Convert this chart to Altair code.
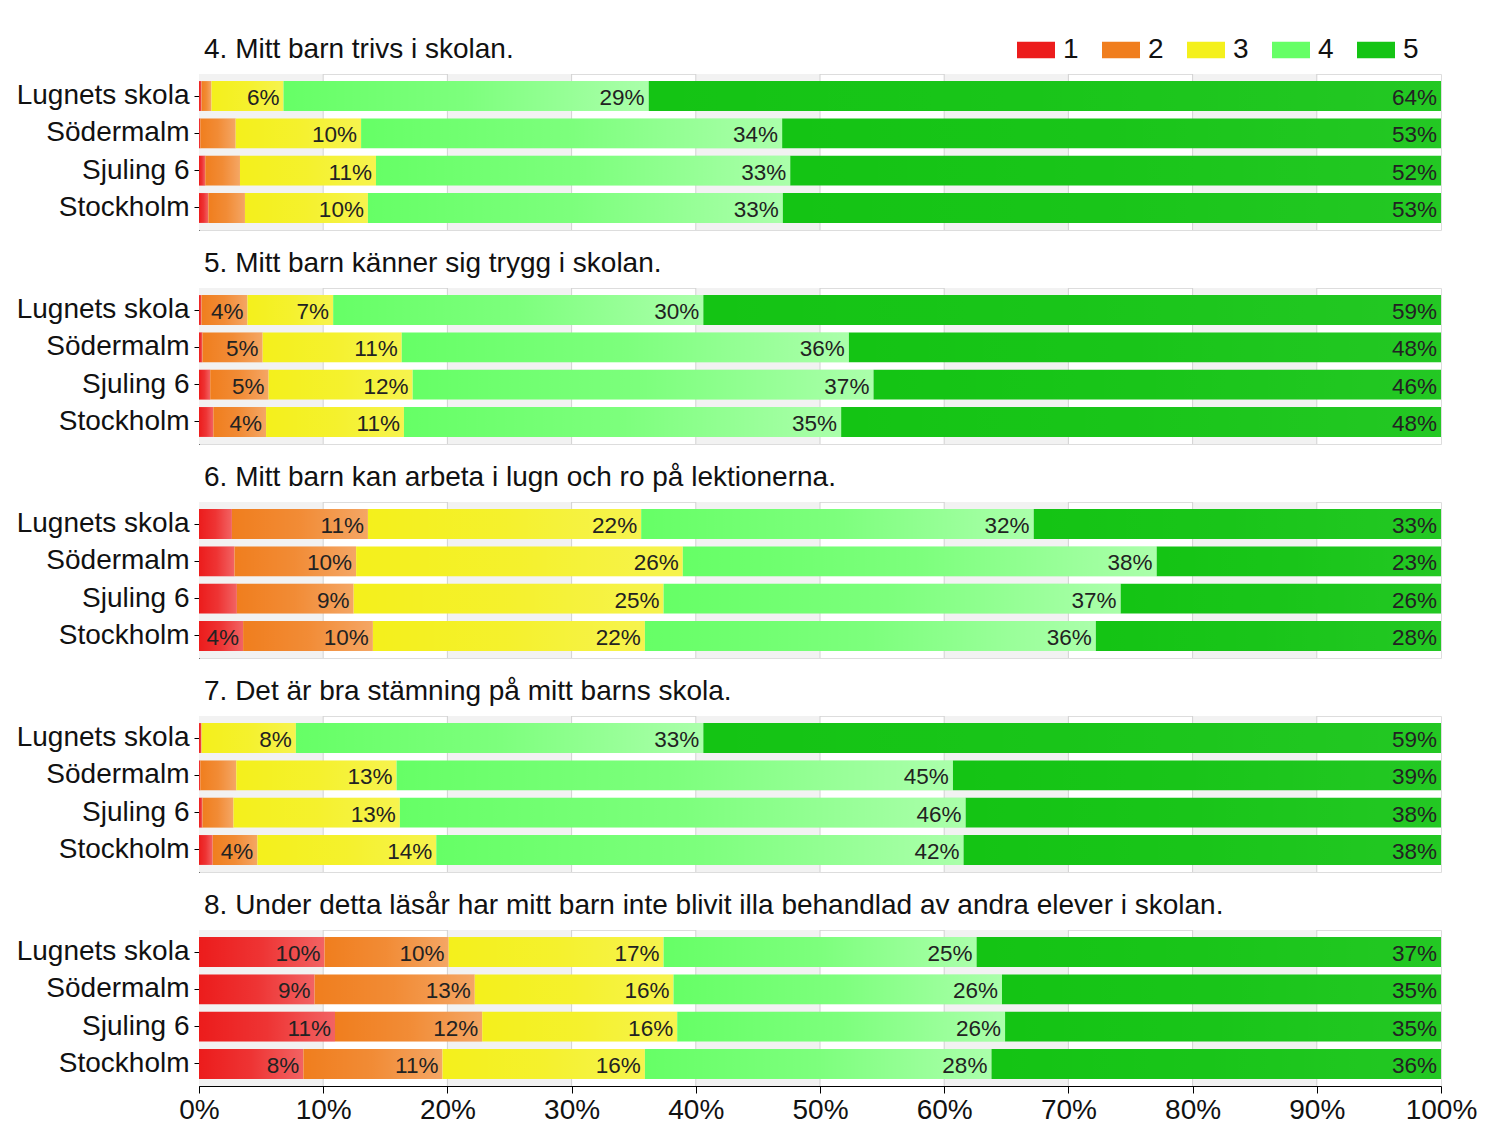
import altair as alt
import pandas as pd

questions = [
    "4. Mitt barn trivs i skolan.",
    "5. Mitt barn känner sig trygg i skolan.",
    "6. Mitt barn kan arbeta i lugn och ro på lektionerna.",
    "7. Det är bra stämning på mitt barns skola.",
    "8. Under detta läsår har mitt barn inte blivit illa behandlad av andra elever i skolan.",
]
schools = ["Lugnets skola", "Södermalm", "Sjuling 6", "Stockholm"]
levels = ["1", "2", "3", "4", "5"]
colors = ["#EC1C1C", "#F07E1E", "#F4F01C", "#66FF66", "#14C414"]
shine_strength = [0.7, 0.7, 0.5, 1.0, 0.15]

# percent per school (rows) and answer level 1..5 (columns)
q4 = [[0.2, 0.8, 5.8, 29.4, 63.8], [0.1, 2.85, 10.1, 33.9, 53.05],
      [0.5, 2.8, 10.95, 33.35, 52.4], [0.75, 2.95, 9.9, 33.4, 53.0]]
q5 = [[0.2, 3.7, 6.9, 29.8, 59.4], [0.27, 4.85, 11.2, 36.0, 47.68],
      [0.9, 4.7, 11.6, 37.1, 45.7], [1.15, 4.25, 11.1, 35.2, 48.3]]
q6 = [[2.65, 10.95, 22.0, 31.6, 32.8], [2.85, 9.8, 26.3, 38.15, 22.9],
      [3.05, 9.4, 24.95, 36.8, 25.8], [3.55, 10.45, 21.9, 36.3, 27.8]]
q7 = [[0.2, 0.0, 7.6, 32.8, 59.4], [0.1, 2.9, 12.9, 44.8, 39.3],
      [0.27, 2.5, 13.4, 45.55, 38.28], [1.1, 3.6, 14.4, 42.45, 38.45]]
q8 = [[10.1, 10.0, 17.3, 25.2, 37.4], [9.3, 12.9, 16.0, 26.45, 35.35],
      [10.95, 11.85, 15.7, 26.4, 35.1], [8.4, 11.2, 16.3, 27.9, 36.2]]
all_values = [q4, q5, q6, q7, q8]

band_starts = [0, 20, 40, 60, 80]
grid_values = [10, 20, 30, 40, 50, 60, 70, 80, 90]

rows = []
for q, qv in zip(questions, all_values):
    for s, vals in zip(schools, qv):
        cum = 0.0
        for lev, v in zip(levels, vals):
            rows.append(dict(q=q, school=s, level=lev, value=v, start=cum, end=cum + v,
                             label=(f"{int(v + 0.5)}%" if v >= 3.5 else "")))
            cum += v
df = pd.DataFrame(rows)
bands = pd.DataFrame({"b0": band_starts, "b1": [b + 10 for b in band_starts]})
grid = pd.DataFrame({"g": grid_values})

FONT = "Liberation Sans"
xs = alt.Scale(domain=[0, 100], nice=False, zero=True)
ys = alt.Scale(domain=schools, paddingInner=0.2, paddingOuter=0.19)


def gloss(k):
    return alt.LinearGradient(
        gradient="linear",
        stops=[alt.GradientStop(color="rgba(255,255,255,0)", offset=0),
               alt.GradientStop(color=f"rgba(255,255,255,{0.15 * k:.3f})", offset=0.5),
               alt.GradientStop(color=f"rgba(255,255,255,{0.45 * k:.3f})", offset=1)],
        x1=0, x2=1, y1=0, y2=0)


def panel(i):
    q = questions[i]
    last = i == len(questions) - 1
    dq = df[df.q == q]
    if last:
        xaxis = alt.Axis(values=list(range(0, 101, 10)), labelExpr="datum.value + '%'",
                         labelFontSize=28, labelColor="#111", labelFont=FONT, tickSize=7,
                         tickColor="#000", domainColor="#000", grid=False, labelFlush=False,
                         labelOverlap=False, labelPadding=3, title=None)
    else:
        xaxis = None
    yaxis = alt.Axis(labelFontSize=28, labelColor="#111", labelFont=FONT, tickSize=5,
                     tickColor="#000", domainColor="#000", labelPadding=5, minExtent=190,
                     labelLimit=400, title=None)
    if i == 0:
        legend = alt.Legend(title=None, orient="none", legendX=818, legendY=-43,
                            direction="horizontal", columns=5,
                            symbolType="M-1,-0.44H1V0.44H-1Z", symbolSize=1444,
                            symbolStrokeWidth=0, symbolOpacity=1, labelFontSize=28,
                            labelFont=FONT, labelColor="#111", labelOffset=8,
                            columnPadding=23)
        title_offset = -33
    else:
        legend = None
        title_offset = 10

    X = lambda f: alt.X(f, scale=xs, axis=xaxis)
    Y = alt.Y("school:N", sort=schools, scale=ys, axis=yaxis)

    band_layer = alt.Chart(bands).mark_rect(color="#F2F2F2").encode(
        x=X("b0:Q"), x2="b1:Q")
    grid_layer = alt.Chart(grid).mark_rule(color="#D2D2D2", strokeWidth=1).encode(
        x=X("g:Q"))
    bars = alt.Chart(dq).mark_bar().encode(
        x=X("start:Q"), x2="end:Q", y=Y,
        color=alt.Color("level:N", scale=alt.Scale(domain=levels, range=colors), legend=legend))
    shines = [
        alt.Chart(dq).transform_filter(alt.datum.level == lev).mark_bar(color=gloss(k)).encode(
            x=X("start:Q"), x2="end:Q", y=Y)
        for lev, k in zip(levels, shine_strength)
    ]
    text = alt.Chart(dq).transform_filter("datum.label != ''").mark_text(
        align="right", baseline="middle", dx=-4, dy=2, fontSize=22.5, font=FONT, color="#222"
    ).encode(x=X("end:Q"), y=Y, text="label:N")
    return alt.layer(band_layer, grid_layer, bars, *shines, text).properties(
        width=1242, height=156,
        title=alt.TitleParams(text=q, anchor="start", frame="group", dx=5, fontSize=28,
                              font=FONT, fontWeight="normal", color="#111", offset=title_offset))


chart = alt.vconcat(*[panel(i) for i in range(len(questions))], spacing=18).resolve_legend(
    color="independent").properties(
    padding={"left": 0, "top": 22, "right": 0, "bottom": 0}).configure_view(
    stroke="#888888", strokeWidth=1).configure(font=FONT, background="white")

chart.save("out.html", embed_options={"renderer": "svg", "actions": False})
